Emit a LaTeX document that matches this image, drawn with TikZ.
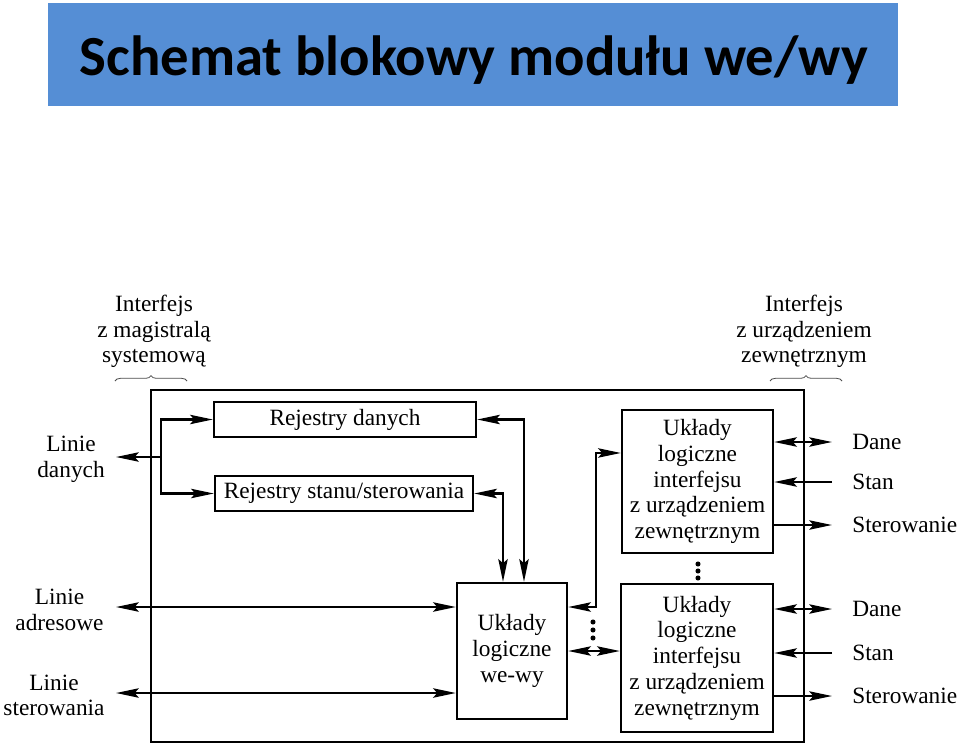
\documentclass[tikz,border=0pt]{standalone}
\usepackage{fontspec}
\setmainfont{Liberation Serif}
\newfontfamily\titlefont{Carlito}
\usetikzlibrary{arrows.meta,decorations.pathreplacing,calc}
\definecolor{bannerblue}{RGB}{85,142,213}
\begin{document}
\begin{tikzpicture}[x=0.75pt,y=-0.75pt,
  txt/.style={font=\fontsize{17.5}{19.3}\selectfont},
  box/.style={draw, line width=1.7pt, inner sep=0pt, align=center, txt},
  lbl/.style={align=center, inner sep=0pt, txt},
  conn/.style={line width=1.8pt},
  tip/.tip={Stealth[length=17pt,width=7pt,inset=3pt]},
  arr/.style={conn, -tip},
  darr/.style={conn, tip-tip},
  dotmark/.style={circle, fill, inner sep=0pt, minimum size=3.8pt},
  bracemark/.style={decorate, decoration={brace, amplitude=4pt}, line width=0.6pt, black!70}]

\fill[white] (0,0) rectangle (960,747);
\useasboundingbox (0,0) rectangle (960,747);

% title banner
\node[fill=bannerblue, minimum width=637.5pt, minimum height=77.25pt, inner sep=0pt] (banner) at (473,54.5) {};
\node[font=\titlefont\bfseries\fontsize{42.5}{50}\selectfont, anchor=base, inner sep=0pt] (title) at (474,75) {Schemat blokowy modułu we/wy};

% module frame
\node[draw, line width=1.7pt, minimum width=489.75pt, minimum height=264pt, inner sep=0pt] (module) at (477.5,566) {};

% blocks
\node[box, minimum width=196.5pt, minimum height=26.25pt] (regD) at (345,419.5) {Rejestry danych};
\node[box, minimum width=193.5pt, minimum height=26.25pt] (regS) at (344,493.5) {Rejestry stanu/sterowania};
\node[box, minimum width=82.5pt, minimum height=102pt] (weWy) at (512,651) {Układy\\logiczne\\we-wy};
\node[box, minimum width=113.25pt, minimum height=107.25pt] (ifA) at (697.5,481.5) {Układy\\logiczne\\interfejsu\\z urządzeniem\\zewnętrznym};
\node[box, minimum width=114pt, minimum height=111pt] (ifB) at (697,658) {Układy\\logiczne\\interfejsu\\z urządzeniem\\zewnętrznym};

% left labels
\node[lbl] (lD) at (71,459.5) {Linie\\danych};
\node[lbl] (lA) at (59.5,610) {Linie\\adresowe};
\node[lbl] (lS) at (54,695.5) {Linie\\sterowania};
\node[lbl] (iM) at (154,331.5) {Interfejs\\z magistralą\\systemową};
\node[lbl] (iU) at (804,331.5) {Interfejs\\z urządzeniem\\zewnętrznym};

% braces
\draw[bracemark] (115,381) -- (187,381);
\draw[bracemark] (770,381) -- (842,381);

% right labels
\node[lbl, anchor=west] (dA) at (852,442) {Dane};
\node[lbl, anchor=west] (sA) at (852,482) {Stan};
\node[lbl, anchor=west] (stA) at (852,525) {Sterowanie};
\node[lbl, anchor=west] (dB) at (852,609) {Dane};
\node[lbl, anchor=west] (sB) at (852,653) {Stan};
\node[lbl, anchor=west] (stB) at (852,696) {Sterowanie};

% left bus connectors
\coordinate (jD) at (161,457);
\coordinate (eD) at (116,457);
\coordinate (eA) at (116,607);
\coordinate (eS) at (116,693);
\draw[arr] (jD) -- (eD);
\draw[arr] (jD) |- (regD.west);
\draw[arr] (jD) |- (regS.west);
\draw[darr] (eA) -- (eA -| weWy.west);
\draw[darr] (eS) -- (eS -| weWy.west);

% registers to I/O logic
\draw[darr] (regD.east) -| ([xshift=9pt]weWy.north);
\draw[darr] (regS.east) -| ([xshift=-6.75pt]weWy.north);

% I/O logic to device interfaces
\draw[darr] ([yshift=33pt]weWy.east) -- ++(28,0) |- ([yshift=21.4pt]ifA.west);
\draw[darr] (weWy.east) -- (weWy.east -| ifB.west);

% device side
\draw[darr] (ifA.east |- dA.west) -- ([xshift=-15pt]dA.west);
\draw[arr] ([xshift=-15pt]sA.west) -- (ifA.east |- sA.west);
\draw[arr] (ifA.east |- stA.west) -- ([xshift=-15pt]stA.west);
\draw[darr] (ifB.east |- dB.west) -- ([xshift=-15pt]dB.west);
\draw[arr] ([xshift=-15pt]sB.west) -- (ifB.east |- sB.west);
\draw[arr] (ifB.east |- stB.west) -- ([xshift=-15pt]stB.west);

% ellipsis dots
\node[dotmark] (v1) at (698,564) {};
\node[dotmark] (v2) at (698,571) {};
\node[dotmark] (v3) at (698,578) {};
\node[dotmark] (h1) at (593,622) {};
\node[dotmark] (h2) at (593,630) {};
\node[dotmark] (h3) at (593,638) {};
\end{tikzpicture}
\end{document}
